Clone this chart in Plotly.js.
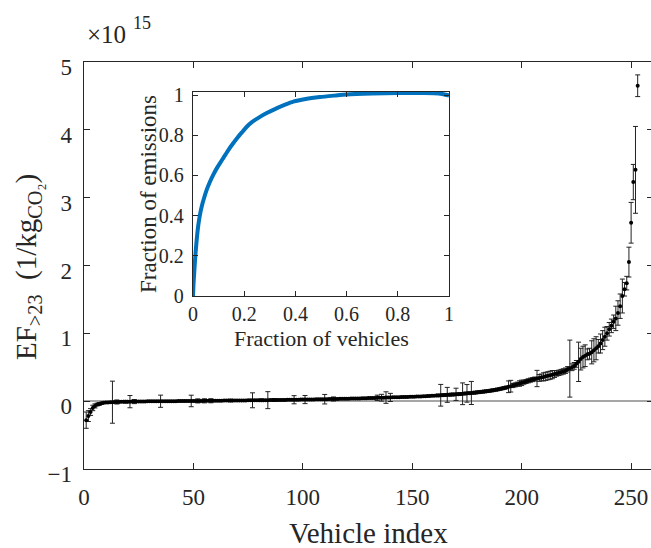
<!DOCTYPE html>
<html>
<head>
<meta charset="utf-8">
<script src="https://cdn.plot.ly/plotly-3.0.1.min.js"></script>
<style>
html,body{margin:0;padding:0;overflow:hidden;background:#fff;width:651px;height:548px;}
#chart{width:654px;height:548px;}
</style>
</head>
<body>
<div id="chart"></div>
<script>
// Emission factor per vehicle (units of 1e15 per kg CO2), sorted ascending; index 1..253
const efValues = [
 -0.28,-0.22,-0.16,-0.10,-0.07,-0.05,-0.04,-0.03,-0.025,-0.02,
 -0.018,-0.016,-0.015,-0.013,-0.012,-0.011,-0.010,-0.009,-0.008,-0.007,
 -0.007,-0.006,-0.006,-0.005,-0.005,-0.004,-0.004,-0.004,-0.003,-0.003,
 -0.003,-0.002,-0.002,-0.002,-0.001,-0.001,-0.001,0,0,0,
 0,0,0.001,0.001,0.001,0.002,0.002,0.002,0.003,0.003,
 0.003,0.004,0.004,0.004,0.005,0.005,0.005,0.006,0.006,0.006,
 0.007,0.007,0.007,0.008,0.008,0.008,0.009,0.009,0.009,0.010,
 0.010,0.011,0.011,0.011,0.012,0.012,0.013,0.013,0.013,0.014,
 0.014,0.015,0.015,0.015,0.016,0.016,0.017,0.017,0.018,0.018,
 0.019,0.019,0.020,0.020,0.021,0.021,0.022,0.022,0.023,0.023,
 0.024,0.024,0.025,0.026,0.026,0.027,0.027,0.028,0.029,0.029,
 0.030,0.031,0.031,0.032,0.033,0.033,0.034,0.035,0.036,0.036,
 0.037,0.038,0.039,0.040,0.041,0.041,0.042,0.043,0.044,0.045,
 0.046,0.047,0.048,0.049,0.050,0.051,0.052,0.053,0.054,0.055,
 0.056,0.057,0.058,0.059,0.060,0.061,0.062,0.063,0.064,0.065,
 0.066,0.067,0.068,0.070,0.071,0.073,0.075,0.077,0.079,0.081,
 0.083,0.085,0.087,0.089,0.091,0.093,0.095,0.097,0.099,0.101,
 0.103,0.106,0.109,0.112,0.115,0.118,0.121,0.124,0.127,0.131,
 0.135,0.139,0.143,0.147,0.151,0.156,0.161,0.167,0.173,0.180,
 0.187,0.195,0.203,0.212,0.221,0.230,0.240,0.250,0.260,0.270,
 0.280,0.290,0.300,0.310,0.318,0.326,0.334,0.342,0.350,0.358,
 0.366,0.374,0.382,0.391,0.400,0.409,0.418,0.428,0.438,0.449,
 0.47,0.48,0.50,0.52,0.55,0.58,0.62,0.65,0.67,0.69,
 0.70,0.72,0.75,0.78,0.81,0.85,0.90,0.95,1.00,1.06,
 1.11,1.17,1.22,1.30,1.40,1.55,1.65,1.74,2.05,2.63,
 3.23,3.41,4.65
];
// Error bar half-widths (same units); small default ones hidden under the markers
const efErrors = [
 0.12,0.08,0.05,0.04,0.03,0.02,0.02,0.015,0.01,0.01,
 0.01,0.01,0.31,0.01,0.03,0.01,0.01,0.01,0.02,0.01,
 0.09,0.01,0.03,0.01,0.01,0.01,0.01,0.01,0.01,0.01,
 0.01,0.01,0.01,0.01,0.09,0.01,0.01,0.01,0.01,0.01,
 0.01,0.01,0.01,0.01,0.01,0.01,0.01,0.01,0.085,0.01,
 0.01,0.03,0.01,0.01,0.03,0.01,0.01,0.03,0.01,0.01,
 0.01,0.01,0.01,0.01,0.01,0.01,0.02,0.01,0.01,0.01,
 0.01,0.01,0.01,0.01,0.01,0.01,0.11,0.01,0.01,0.01,
 0.02,0.01,0.01,0.125,0.01,0.01,0.02,0.01,0.01,0.01,
 0.01,0.01,0.01,0.01,0.01,0.06,0.01,0.01,0.01,0.01,
 0.06,0.01,0.01,0.01,0.01,0.01,0.01,0.01,0.01,0.07,
 0.01,0.01,0.01,0.03,0.01,0.01,0.01,0.01,0.01,0.01,
 0.01,0.01,0.01,0.01,0.01,0.01,0.01,0.01,0.01,0.01,
 0.01,0.01,0.01,0.04,0.01,0.05,0.01,0.085,0.01,0.06,
 0.01,0.01,0.01,0.01,0.01,0.01,0.01,0.01,0.01,0.01,
 0.01,0.01,0.01,0.01,0.01,0.01,0.01,0.01,0.01,0.01,
 0.01,0.02,0.16,0.02,0.02,0.11,0.02,0.02,0.02,0.09,
 0.02,0.02,0.16,0.02,0.13,0.02,0.17,0.02,0.02,0.02,
 0.02,0.02,0.02,0.02,0.02,0.02,0.02,0.02,0.02,0.02,
 0.02,0.02,0.02,0.086,0.086,0.03,0.03,0.03,0.04,0.04,
 0.03,0.03,0.03,0.03,0.03,0.03,0.12,0.05,0.05,0.06,
 0.06,0.06,0.06,0.06,0.05,0.04,0.04,0.04,0.04,0.04,
 0.04,0.42,0.05,0.05,0.05,0.29,0.16,0.16,0.16,0.08,
 0.08,0.17,0.17,0.17,0.10,0.14,0.14,0.14,0.10,0.10,
 0.10,0.10,0.18,0.18,0.18,0.25,0.10,0.10,0.22,0.30,
 0.26,0.64,0.16
];
const vehicleIndex = efValues.map((_, i) => i + 1);

// Inset: cumulative fraction of emissions vs fraction of vehicles
const fracVehicles  = [0,0.002,0.005,0.008,0.012,0.016,0.021,0.028,0.036,0.045,0.053,0.065,0.08,0.095,0.105,0.12,0.14,0.157,0.175,0.195,0.21,0.23,0.26,0.288,0.32,0.36,0.392,0.44,0.496,0.55,0.6,0.7,0.8,0.9,0.96,1.0];
const fracEmissions = [0,0.06,0.12,0.18,0.245,0.30,0.355,0.41,0.455,0.495,0.527,0.565,0.605,0.64,0.66,0.69,0.73,0.76,0.79,0.82,0.842,0.865,0.89,0.91,0.93,0.952,0.967,0.98,0.99,0.997,1.003,1.008,1.01,1.01,1.008,0.998];

const mainXTicks = [0,50,100,150,200,250];
const mainYTicks = [-1,0,1,2,3,4,5];
const insetTicks = [0,0.2,0.4,0.6,0.8,1];
const insetTickText = ['0','0.2','0.4','0.6','0.8','1'];

const FONT = 'Liberation Serif, Times New Roman, serif';
const AX = '#262626';

const traces = [
 {
  x: vehicleIndex, y: efValues, type: 'scatter', mode: 'markers',
  marker: {color: '#000', size: 4},
  error_y: {type: 'data', array: efErrors, visible: true, color: '#222', thickness: 1, width: 2.5},
  xaxis: 'x', yaxis: 'y', hoverinfo: 'skip', showlegend: false
 },
 {
  x: fracVehicles, y: fracEmissions, type: 'scatter', mode: 'lines',
  line: {color: '#0072BD', width: 4, shape: 'spline', smoothing: 0.5},
  xaxis: 'x2', yaxis: 'y2', showlegend: false, hoverinfo: 'skip'
 }
];

const W = 654, H = 548, L = 84, R = 1, T = 62, B = 79;
const pw = W - L - R, ph = H - T - B;
const px = v => (v - L) / pw;
const py = v => (H - B - v) / ph;

const layout = {
 width: W, height: H, autosize: false,
 margin: {l: L, r: R, t: T, b: B, pad: 0},
 paper_bgcolor: '#fff', plot_bgcolor: '#fff',
 font: {family: FONT, color: AX, size: 23},
 showlegend: false,
 xaxis: {
  domain: [0,1], range: [0,260], tickvals: mainXTicks, ticks: 'inside', ticklen: 6,
  tickcolor: AX, showline: true, linecolor: AX, linewidth: 1.3, mirror: 'ticks',
  showgrid: false, zeroline: false, tickfont: {size: 23, family: FONT, color: AX},
  ticklabelstandoff: 7
 },
 yaxis: {
  domain: [0,1], range: [-1,5], tickvals: mainYTicks, ticks: 'inside', ticklen: 6,
  tickcolor: AX, showline: true, linecolor: AX, linewidth: 1.3, mirror: 'ticks',
  showgrid: false, zeroline: true, zerolinecolor: '#a6a6a6', zerolinewidth: 1.5,
  tickfont: {size: 23, family: FONT, color: AX}, ticklabelstandoff: 6, ticklabelshift: 5
 },
 xaxis2: {
  domain: [px(193), px(449)], anchor: 'y2', range: [0,1], tickvals: insetTicks, ticktext: insetTickText,
  ticks: 'inside', ticklen: 5, tickcolor: AX, showline: true, linecolor: AX, linewidth: 1.3,
  mirror: 'ticks', showgrid: false, zeroline: false, tickfont: {size: 20, family: FONT, color: AX},
  ticklabelstandoff: 0
 },
 yaxis2: {
  domain: [py(296), py(92)], anchor: 'x2', range: [0,1.015], tickvals: insetTicks, ticktext: insetTickText,
  ticks: 'inside', ticklen: 5, tickcolor: AX, showline: true, linecolor: AX, linewidth: 1.3,
  mirror: 'ticks', showgrid: false, zeroline: false, tickfont: {size: 20, family: FONT, color: AX},
  ticklabelstandoff: 4
 },
 shapes: [
  {type: 'rect', xref: 'paper', yref: 'paper', x0: px(193), x1: px(449), y0: py(296), y1: py(92),
   fillcolor: '#fff', line: {width: 0}, layer: 'below'}
 ],
 annotations: [
  {text: 'EF<sub>&gt;23</sub>  (1/kg<sub>CO₂</sub>)', xref: 'paper', yref: 'paper',
   x: px(28), y: py(267), xanchor: 'center', yanchor: 'middle', textangle: -90, showarrow: false,
   font: {size: 29, family: FONT, color: AX}},
  {text: 'Vehicle index', xref: 'paper', yref: 'paper', x: px(368), y: py(533),
   xanchor: 'center', yanchor: 'middle', showarrow: false, font: {size: 29, family: FONT, color: AX}},
  {text: '×10', xref: 'paper', yref: 'paper', x: px(85), y: py(34),
   xanchor: 'left', yanchor: 'middle', showarrow: false, font: {size: 25, family: FONT, color: AX}},
  {text: '15', xref: 'paper', yref: 'paper', x: px(131), y: py(23),
   xanchor: 'left', yanchor: 'middle', showarrow: false, font: {size: 18, family: FONT, color: AX}},
  {text: 'Fraction of emissions', xref: 'paper', yref: 'paper', x: px(148), y: py(194),
   xanchor: 'center', yanchor: 'middle', textangle: -90, showarrow: false,
   font: {size: 23, family: FONT, color: AX}},
  {text: 'Fraction of vehicles', xref: 'paper', yref: 'paper', x: px(321), y: py(338),
   xanchor: 'center', yanchor: 'middle', showarrow: false, font: {size: 22, family: FONT, color: AX}}
 ]
};

Plotly.newPlot('chart', traces, layout, {displayModeBar: false, staticPlot: true});
</script>
</body>
</html>
